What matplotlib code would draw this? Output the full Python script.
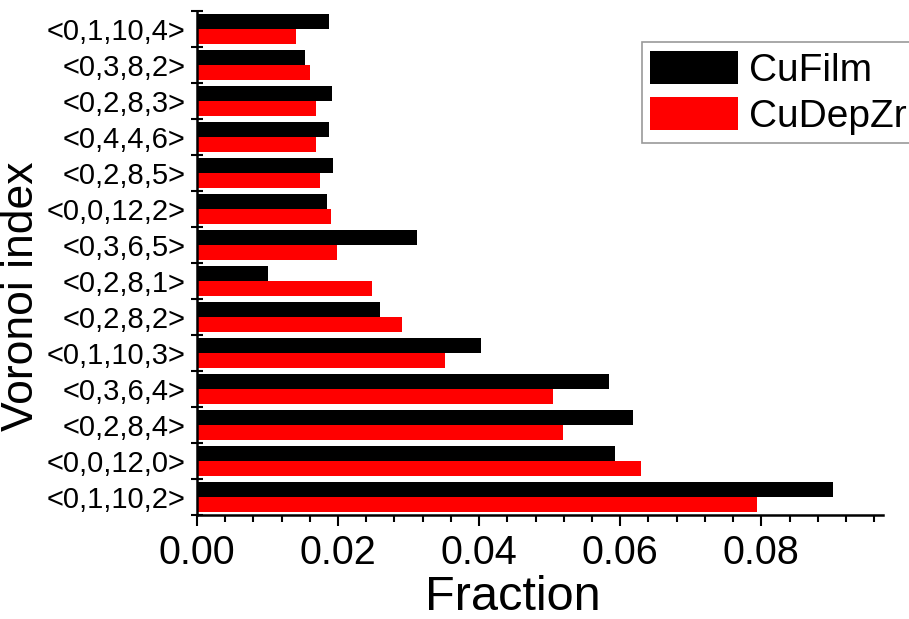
import matplotlib.pyplot as plt
import numpy as np
from matplotlib.ticker import MultipleLocator, FixedLocator

plt.rcParams['font.family'] = ['Liberation Sans', 'DejaVu Sans']

# categories listed top to bottom, as in the picture
labels = ['<0,1,10,4>', '<0,3,8,2>', '<0,2,8,3>', '<0,4,4,6>', '<0,2,8,5>',
          '<0,0,12,2>', '<0,3,6,5>', '<0,2,8,1>', '<0,2,8,2>', '<0,1,10,3>',
          '<0,3,6,4>', '<0,2,8,4>', '<0,0,12,0>', '<0,1,10,2>']
cufilm = [0.0187, 0.0153, 0.0192, 0.0187, 0.0193,
          0.0185, 0.0312, 0.0100, 0.0260, 0.0402,
          0.0584, 0.0618, 0.0593, 0.0902]
cudepzr = [0.0140, 0.0160, 0.0169, 0.0169, 0.0174,
           0.0190, 0.0199, 0.0248, 0.0291, 0.0351,
           0.0504, 0.0519, 0.0630, 0.0794]

n = len(labels)
y = np.arange(n)[::-1]  # top label gets highest y

fig = plt.figure(figsize=(9.09, 6.19), dpi=100)
ax = fig.add_axes([0.2167, 0.168, 0.7543, 0.8147])

h = 0.42
ax.barh(y + 0.21, cufilm, height=h, color='black', label='CuFilm')
ax.barh(y - 0.21, cudepzr, height=h, color='red', label='CuDepZr')

ax.set_xlim(0, 0.0972)
ax.set_ylim(-0.5, n - 0.5)

ax.set_yticks(y)
ax.set_yticklabels(labels, fontsize=21)
ax.tick_params(axis='y', which='major', length=0, pad=8)
ax.yaxis.set_minor_locator(FixedLocator(np.arange(n + 1) - 0.5))
ax.tick_params(axis='y', which='minor', direction='inout', length=9, width=1.5)

ax.xaxis.set_major_locator(MultipleLocator(0.02))
ax.xaxis.set_minor_locator(MultipleLocator(0.004))
ax.set_xticklabels([f'{v:.2f}' for v in ax.get_xticks()])
ax.tick_params(axis='x', which='major', direction='out', length=8, width=1.5,
               labelsize=28.5, pad=6)
ax.tick_params(axis='x', which='minor', direction='out', length=5, width=1.5)
ax.set_xlim(0, 0.0972)

for s in ['top', 'right']:
    ax.spines[s].set_visible(False)
for s in ['left', 'bottom']:
    ax.spines[s].set_linewidth(1.8)

ax.set_xlabel('Fraction', fontsize=35)
ax.xaxis.set_label_coords(0.46, -0.118)
ax.set_ylabel('Voronoi index', fontsize=32)
ax.yaxis.set_label_coords(-0.226, 0.434)

leg = fig.legend(loc='upper left', bbox_to_anchor=(0.706, 0.932), fontsize=28,
                 frameon=True, fancybox=False, edgecolor='gray',
                 handlelength=2.25, handleheight=0.95, handletextpad=0.3,
                 borderpad=0.22, labelspacing=0.2, borderaxespad=0)
leg.get_frame().set_linewidth(1.2)

plt.savefig('out.png', dpi=100)
